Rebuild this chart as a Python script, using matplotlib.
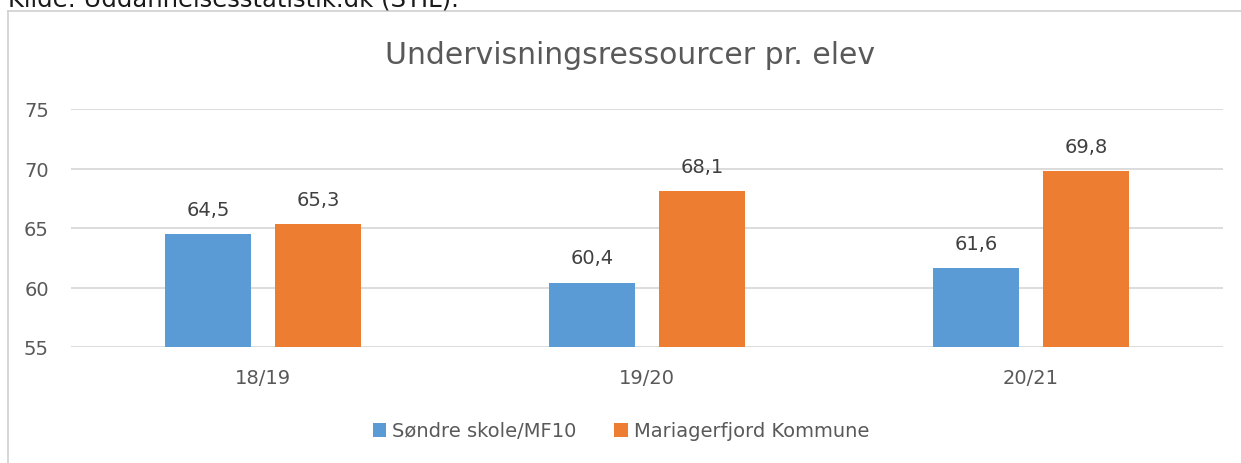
import matplotlib
matplotlib.use("Agg")
import matplotlib.pyplot as plt
from matplotlib.lines import Line2D
import numpy as np

categories = ["18/19", "19/20", "20/21"]
series_names = ["Søndre skole/MF10", "Mariagerfjord Kommune"]
soendre = [64.5, 60.4, 61.6]
mariager = [65.3, 68.1, 69.8]
yticks = [55, 60, 65, 70, 75]

blue = "#5B9BD5"
orange = "#ED7D31"
txt = "#595959"
grid = "#D9D9D9"

W, H = 1241, 464
fig = plt.figure(figsize=(W/100, H/100), dpi=100)
plt.rcParams['font.family'] = ['DejaVu Sans']

# chart border (partially cropped)
fig.add_artist(Line2D([7.5/W, 7.5/W], [0, 1-11.5/H], color="#D0D0D0", lw=1.2, transform=fig.transFigure))
fig.add_artist(Line2D([7.5/W, 1.0], [1-11.5/H, 1-11.5/H], color="#D0D0D0", lw=1.2, transform=fig.transFigure))

# cropped source text at top (cut off in the reference as well)
fig.text(8/W, 1-7/H, "Kilde: Uddannelsesstatistik.dk (STIL).", fontsize=17.5, color="#1a1a1a",
         va="baseline", ha="left")

ax = fig.add_axes([71/W, 1-348/H, (1223-71)/W, (348-110)/H])
x = np.arange(len(categories))
bw = 0.224
off = (bw + 0.063) / 2
b1 = ax.bar(x - off, soendre, bw, color=blue, label=series_names[0], zorder=3)
b2 = ax.bar(x + off, mariager, bw, color=orange, label=series_names[1], zorder=3)

ax.set_ylim(55, 75)
ax.set_xlim(-0.5, 2.5)
ax.set_yticks(yticks)
ax.set_yticklabels([str(t) for t in yticks])
ax.set_xticks(x)
ax.set_xticklabels(categories)
ax.tick_params(axis="both", length=0, labelsize=14, colors=txt)
ax.tick_params(axis="x", pad=15)
ax.tick_params(axis="y", pad=16)
for s in ax.spines.values():
    s.set_visible(False)
ax.yaxis.grid(True, color=grid, lw=1.3, zorder=0)
ax.set_axisbelow(True)

for bars, vals in ((b1, soendre), (b2, mariager)):
    for r, v in zip(bars, vals):
        ax.annotate(f"{v:.1f}".replace(".", ","), (r.get_x() + r.get_width()/2, v),
                    xytext=(0, 11), textcoords="offset points", ha="center", va="bottom",
                    fontsize=14, color="#404040")

fig.text(630/W, 1-56/H, "Undervisningsressourcer pr. elev", fontsize=21.5, color=txt,
         ha="center", va="center")

leg = fig.legend(handles=[b1, b2], labels=series_names, loc="center", bbox_to_anchor=(621/W, 1-432/H),
                 ncol=2, frameon=False, fontsize=14, handlelength=0.7, handleheight=0.7,
                 handletextpad=0.3, columnspacing=1.95)
for t in leg.get_texts():
    t.set_color(txt)

fig.savefig("out.png", dpi=100)
